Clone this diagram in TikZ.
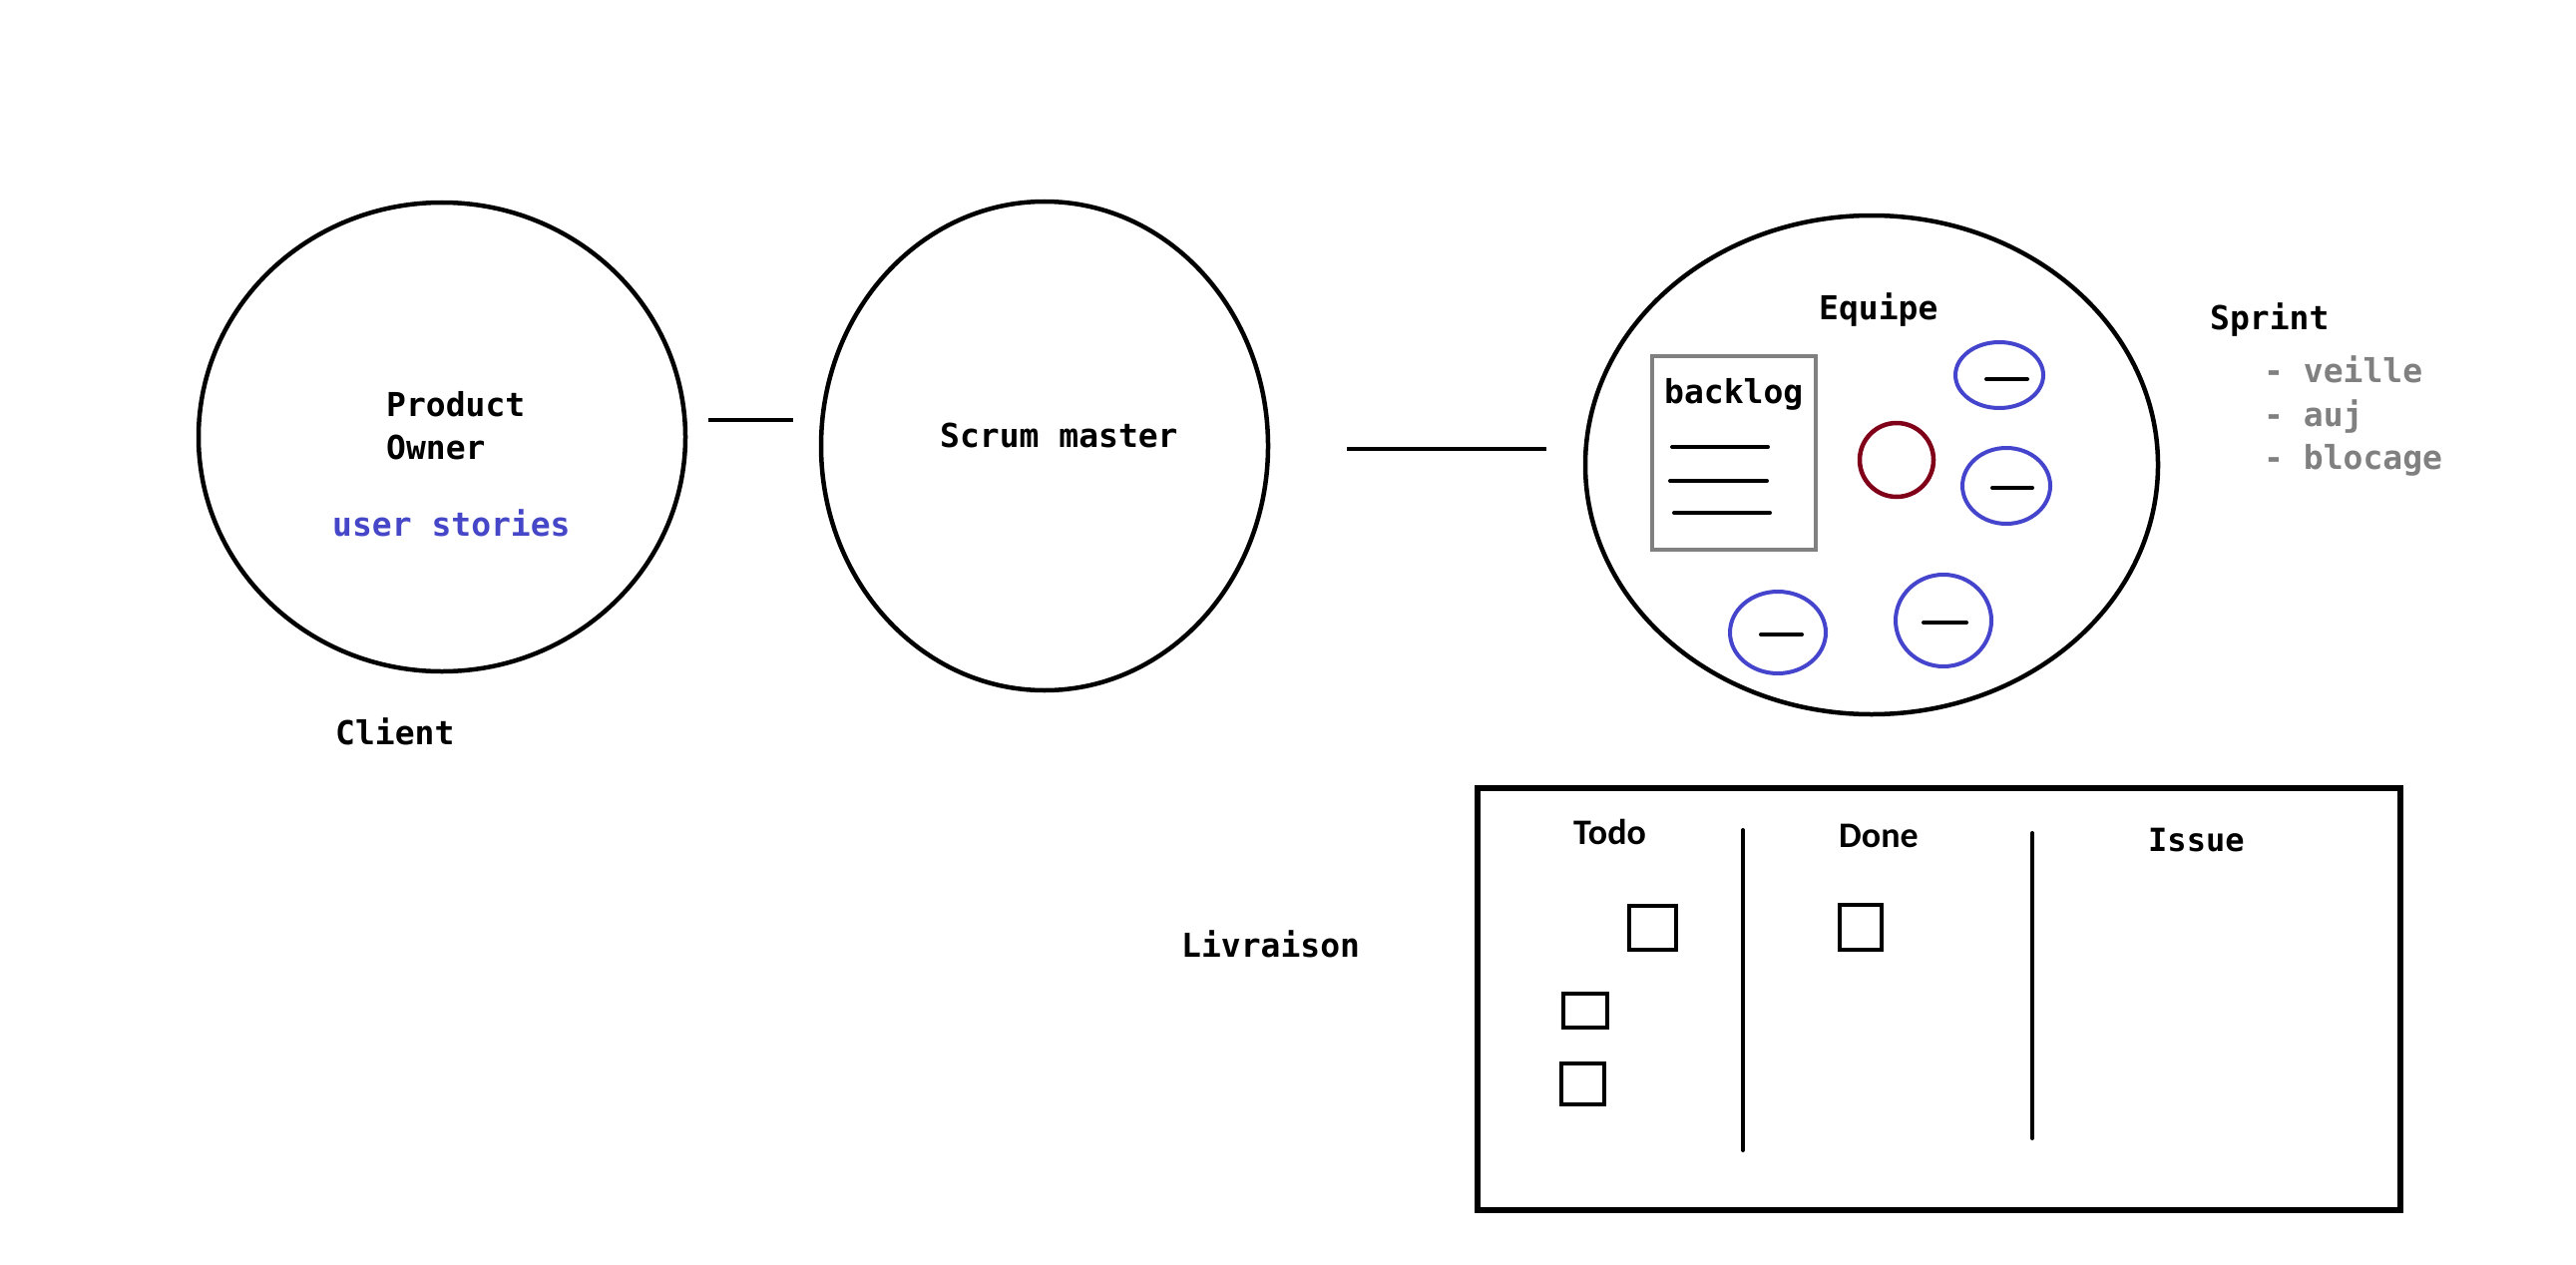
\documentclass[tikz,border=0pt]{standalone}
\usepackage{fontspec}
\newfontfamily\monob{DejaVu Sans Mono}[BoldFont={DejaVu Sans Mono Bold}]
\newfontfamily\calib{Carlito}
\definecolor{storyblue}{HTML}{4646C8}
\definecolor{memberblue}{HTML}{4444CC}
\definecolor{leadred}{HTML}{80001A}
\definecolor{textgray}{HTML}{808080}
\begin{document}
\begin{tikzpicture}[x=1pt,y=-1pt,
  lbl/.style={inner sep=0pt,anchor=base west,font=\monob\bfseries\fontsize{33}{40}\selectfont},
  col/.style={inner sep=0pt,anchor=base west,font=\calib\bfseries\fontsize{36}{42}\selectfont},
  bigcircle/.style={draw=black,line width=4.5pt},
  member/.style={draw=memberblue,line width=4pt},
  bar/.style={draw=black,line width=4pt,line cap=round},
  card/.style={draw=black,line width=4.5pt},
  link/.style={draw=black,line width=4.5pt}]
\fill[white] (0,0) rectangle (2582,1268);
\useasboundingbox (0,0) rectangle (2582,1268);
% Product owner circle
\draw[bigcircle] (443,438) ellipse [x radius=244,y radius=235];
\node[lbl] (product) at (387,417) {Product};
\node[lbl] (owner) at (387,460) {Owner};
\node[lbl,text=storyblue] (stories) at (333,537) {user stories};
\node[lbl] (client) at (336,746) {Client};
% Scrum master
\draw[bigcircle] (1047,447) ellipse [x radius=224,y radius=245];
\node[lbl] (sm) at (942,448) {Scrum master};
% connectors
\coordinate (l1a) at (710,421);
\coordinate (l1b) at (795,421);
\draw[link] (l1a) -- (l1b);
\coordinate (l2a) at (1350,450);
\coordinate (l2b) at (1550,450);
\draw[link] (l2a) -- (l2b);
% Equipe
\draw[bigcircle] (1876,466) ellipse [x radius=287,y radius=250];
\node[lbl] (equipe) at (1823,320) {Equipe};
\draw[draw=textgray,line width=4.5pt] (1656,357) rectangle (1820,551);
\node[lbl] (backlog) at (1668,404) {backlog};
\coordinate (b1a) at (1676,448); \coordinate (b1b) at (1772,448);
\coordinate (b2a) at (1674,482); \coordinate (b2b) at (1771,482);
\coordinate (b3a) at (1678,514); \coordinate (b3b) at (1774,514);
\draw[bar] (b1a) -- (b1b);
\draw[bar] (b2a) -- (b2b);
\draw[bar] (b3a) -- (b3b);
\draw[draw=leadred,line width=4.5pt] (1901,461) ellipse [x radius=37,y radius=37];
\draw[member] (2004,376) ellipse [x radius=44,y radius=33];
\draw[bar] (1991,380) -- (2032,380);
\draw[member] (2011,487) ellipse [x radius=44,y radius=38];
\draw[bar] (1997,489) -- (2037,489);
\draw[member] (1782,634) ellipse [x radius=48,y radius=41];
\draw[bar] (1765,636) -- (1806,636);
\draw[member] (1948,622) ellipse [x radius=48,y radius=46];
\draw[bar] (1928,624) -- (1971,624);
% Sprint
\node[lbl] (sprint) at (2215,330) {Sprint};
\node[lbl,text=textgray] (veille) at (2269,383) {- veille};
\node[lbl,text=textgray] (auj) at (2269,427) {- auj};
\node[lbl,text=textgray] (blocage) at (2269,470) {- blocage};
% Livraison
\node[lbl] (livraison) at (1184,959) {Livraison};
% Board
\draw[draw=black,line width=6pt] (1481,790) rectangle (2406,1213);
\draw[bar] (1747,832) -- (1747,1153);
\draw[bar] (2037,835) -- (2037,1141);
\node[col] (todo) at (1577,846) {Todo};
\node[col] (done) at (1843,849) {Done};
\node[lbl,font=\monob\bfseries\fontsize{32}{38}\selectfont] (issue) at (2153,853) {Issue};
\draw[card] (1633,908) rectangle (1680,952);
\draw[card] (1567,996) rectangle (1611,1030);
\draw[card] (1565,1066) rectangle (1608,1107);
\draw[card] (1844,907) rectangle (1886,952);
\end{tikzpicture}
\end{document}
